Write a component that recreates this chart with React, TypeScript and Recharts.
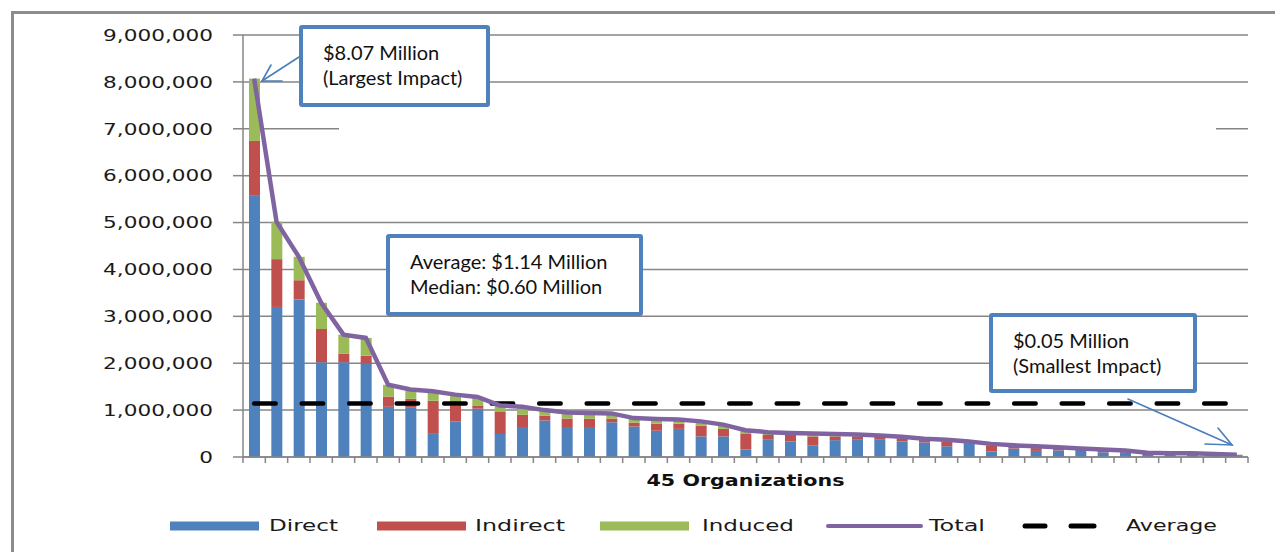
import { ComposedChart, Bar, Line, XAxis, YAxis, CartesianGrid, Legend } from "recharts";

// dollar impact per organization
const organizations = Array.from({ length: 45 }, (_, i) => `Org ${i + 1}`);

const direct = [
  5570000, 3200000, 3360000, 2020000, 2020000, 1990000, 1070000, 1050000, 510000, 760000,
  1030000, 490000, 640000, 780000, 640000, 640000, 740000, 650000, 560000, 600000,
  440000, 440000, 160000, 380000, 330000, 250000, 360000, 380000, 380000, 330000,
  310000, 230000, 280000, 120000, 180000, 130000, 140000, 150000, 100000, 100000,
  70000, 60000, 60000, 50000, 40000,
];

const indirect = [
  1170000, 1020000, 410000, 710000, 180000, 170000, 220000, 190000, 690000, 340000,
  70000, 470000, 260000, 100000, 180000, 180000, 80000, 80000, 150000, 110000,
  230000, 160000, 330000, 90000, 140000, 190000, 80000, 60000, 50000, 70000,
  50000, 100000, 30000, 130000, 50000, 60000, 50000, 10000, 40000, 20000,
  10000, 10000, 10000, 10000, 5000,
];

const induced = [
  1330000, 800000, 500000, 560000, 410000, 380000, 250000, 200000, 200000, 230000,
  180000, 140000, 170000, 120000, 130000, 120000, 110000, 100000, 100000, 90000,
  90000, 90000, 80000, 60000, 40000, 60000, 50000, 40000, 30000, 30000,
  30000, 40000, 20000, 30000, 20000, 40000, 20000, 20000, 20000, 20000,
  10000, 10000, 10000, 5000, 5000,
];

const AVERAGE = 1140000;

const yTicks = [0, 1000000, 2000000, 3000000, 4000000, 5000000, 6000000, 7000000, 8000000, 9000000];

const data = organizations.map((name, i) => ({
  name,
  direct: direct[i],
  indirect: indirect[i],
  induced: induced[i],
  total: direct[i] + indirect[i] + induced[i],
  average: AVERAGE,
}));

const W = 1275;
const H = 552;
const PLOT_LEFT = 243;
const PLOT_RIGHT = 1248;
const BAND = (PLOT_RIGHT - PLOT_LEFT) / organizations.length;
const GRID = "#868686";

const legendItems = [
  { key: "direct", label: "Direct", color: "#4f81bd", kind: "bar", x: 170, textX: 269, textW: 69 },
  { key: "indirect", label: "Indirect", color: "#c0504d", kind: "bar", x: 377, textX: 475, textW: 90 },
  { key: "induced", label: "Induced", color: "#9bbb59", kind: "bar", x: 600, textX: 702, textW: 92 },
  { key: "total", label: "Total", color: "#8064a2", kind: "line", x: 828, textX: 929, textW: 56 },
  { key: "average", label: "Average", color: "#000000", kind: "dash", x: 1023, textX: 1126, textW: 91 },
];

const fmt = (v: number) => v.toLocaleString("en-US");

function YTick({ x, y, payload }: any) {
  return (
    <g transform={`translate(${x},${y}) scale(1.35,1)`}>
      <text x={0} y={0} dy="0.36em" textAnchor="end" fontFamily="DejaVu Sans" fontSize={16} fill="#1a1a1a">
        {fmt(payload.value)}
      </text>
    </g>
  );
}

function XTick({ x, y, index }: any) {
  const left = x - BAND / 2;
  return (
    <g>
      <line x1={left} x2={left} y1={y} y2={y + 6} stroke={GRID} strokeWidth={1.5} />
      {index === organizations.length - 1 && (
        <line x1={left + BAND} x2={left + BAND} y1={y} y2={y + 6} stroke={GRID} strokeWidth={1.5} />
      )}
    </g>
  );
}

function AxisTitle({ viewBox }: any) {
  const cx = viewBox.x + viewBox.width / 2;
  return (
    <text
      x={cx}
      y={viewBox.y + 28.5}
      textAnchor="middle"
      fontFamily="DejaVu Sans"
      fontWeight="bold"
      fontSize={16}
      textLength={198}
      lengthAdjust="spacingAndGlyphs"
      fill="#111"
    >
      45 Organizations
    </text>
  );
}

function LegendContent() {
  const cy = 16;
  return (
    <svg width={W} height={32} style={{ display: "block" }}>
      {legendItems.map((it) => (
        <g key={it.key}>
          {it.kind === "bar" && <rect x={it.x} y={cy - 4.5} width={89} height={9} fill={it.color} />}
          {it.kind === "line" && (
            <line x1={it.x} x2={it.x + 93} y1={cy} y2={cy} stroke={it.color} strokeWidth={4} strokeLinecap="round" />
          )}
          {it.kind === "dash" && (
            <>
              <line x1={it.x + 2} x2={it.x + 22} y1={cy} y2={cy} stroke={it.color} strokeWidth={5} strokeLinecap="round" />
              <line x1={it.x + 48} x2={it.x + 71} y1={cy} y2={cy} stroke={it.color} strokeWidth={5} strokeLinecap="round" />
            </>
          )}
          <text
            x={it.textX}
            y={cy}
            dy="0.36em"
            fontFamily="DejaVu Sans"
            fontSize={15}
            textLength={it.textW}
            lengthAdjust="spacingAndGlyphs"
            fill="#1a1a1a"
          >
            {it.label}
          </text>
        </g>
      ))}
    </svg>
  );
}

const boxStyle: React.CSSProperties = {
  position: "absolute",
  boxSizing: "border-box",
  border: "4px solid #4f81bd",
  borderRadius: 3,
  background: "#fff",
  fontFamily: "Lato, 'Open Sans', sans-serif",
  fontSize: 20,
  lineHeight: "25px",
  color: "#111",
  paddingLeft: 20,
  paddingTop: 11,
  whiteSpace: "nowrap",
};

export default function App() {
  return (
    <div style={{ position: "absolute", left: 0, top: 0, width: W, height: H, overflow: "hidden", background: "#fff" }}>
      <div
        style={{
          position: "absolute",
          left: 11,
          top: 11,
          width: W + 40,
          height: H + 40,
          border: "3px solid #8c8c8c",
          boxSizing: "border-box",
        }}
      />
      <div style={{ position: "absolute", left: 0, top: 0 }}>
        <ComposedChart width={W} height={H} data={data} margin={{ top: 35, right: W - PLOT_RIGHT, left: 0, bottom: 0 }} barSize={11}>
          <CartesianGrid vertical={false} stroke={GRID} strokeWidth={1.5} />
          <XAxis
            dataKey="name"
            height={95}
            interval={0}
            tickLine={false}
            tickSize={0}
            tickMargin={0}
            axisLine={{ stroke: GRID, strokeWidth: 1.5 }}
            tick={<XTick />}
            label={<AxisTitle />}
          />
          <YAxis
            width={PLOT_LEFT}
            domain={[0, 9000000]}
            ticks={yTicks}
            interval={0}
            tickSize={10}
            tickMargin={20}
            tickLine={{ stroke: GRID, strokeWidth: 1.5 }}
            axisLine={{ stroke: GRID, strokeWidth: 1.5 }}
            tick={<YTick />}
          />
          <Bar dataKey="direct" name="Direct" stackId="a" fill="#4f81bd" isAnimationActive={false} />
          <Bar dataKey="indirect" name="Indirect" stackId="a" fill="#c0504d" isAnimationActive={false} />
          <Bar dataKey="induced" name="Induced" stackId="a" fill="#9bbb59" isAnimationActive={false} />
          <Line
            dataKey="average"
            name="Average"
            stroke="#000"
            strokeWidth={4.5}
            strokeDasharray="21.5 26"
            strokeLinecap="round"
            dot={false}
            activeDot={false}
            isAnimationActive={false}
          />
          <Line
            dataKey="total"
            name="Total"
            type="linear"
            stroke="#8064a2"
            strokeWidth={4.5}
            dot={false}
            activeDot={false}
            isAnimationActive={false}
          />
          <Legend
            layout="horizontal"
            align="center"
            verticalAlign="middle"
            content={<LegendContent />}
            wrapperStyle={{ position: "absolute", left: 0, top: 510, width: W, height: 32 }}
          />
        </ComposedChart>
      </div>

      <svg width={W} height={H} style={{ position: "absolute", left: 0, top: 0, pointerEvents: "none" }}>
        <rect x={339} y={127} width={877} height={5} fill="#fff" />
        <g stroke="#4a7ebb" strokeWidth={1.6} fill="none" strokeLinecap="round">
          <line x1={299} y1={57} x2={262} y2={81} />
          <polyline points="282,81 262,81 271,65" />
          <line x1={1128} y1={399} x2={1232} y2={445} />
          <polyline points="1218,428 1232,445 1205,444" />
        </g>
      </svg>

      <div style={{ ...boxStyle, left: 299, top: 25, width: 191, height: 82 }}>
        $8.07 Million
        <br />
        (Largest Impact)
      </div>
      <div style={{ ...boxStyle, left: 386, top: 234, width: 257, height: 82 }}>
        Average: $1.14 Million
        <br />
        Median: $0.60 Million
      </div>
      <div style={{ ...boxStyle, left: 989, top: 313, width: 208, height: 80 }}>
        $0.05 Million
        <br />
        (Smallest Impact)
      </div>
    </div>
  );
}
